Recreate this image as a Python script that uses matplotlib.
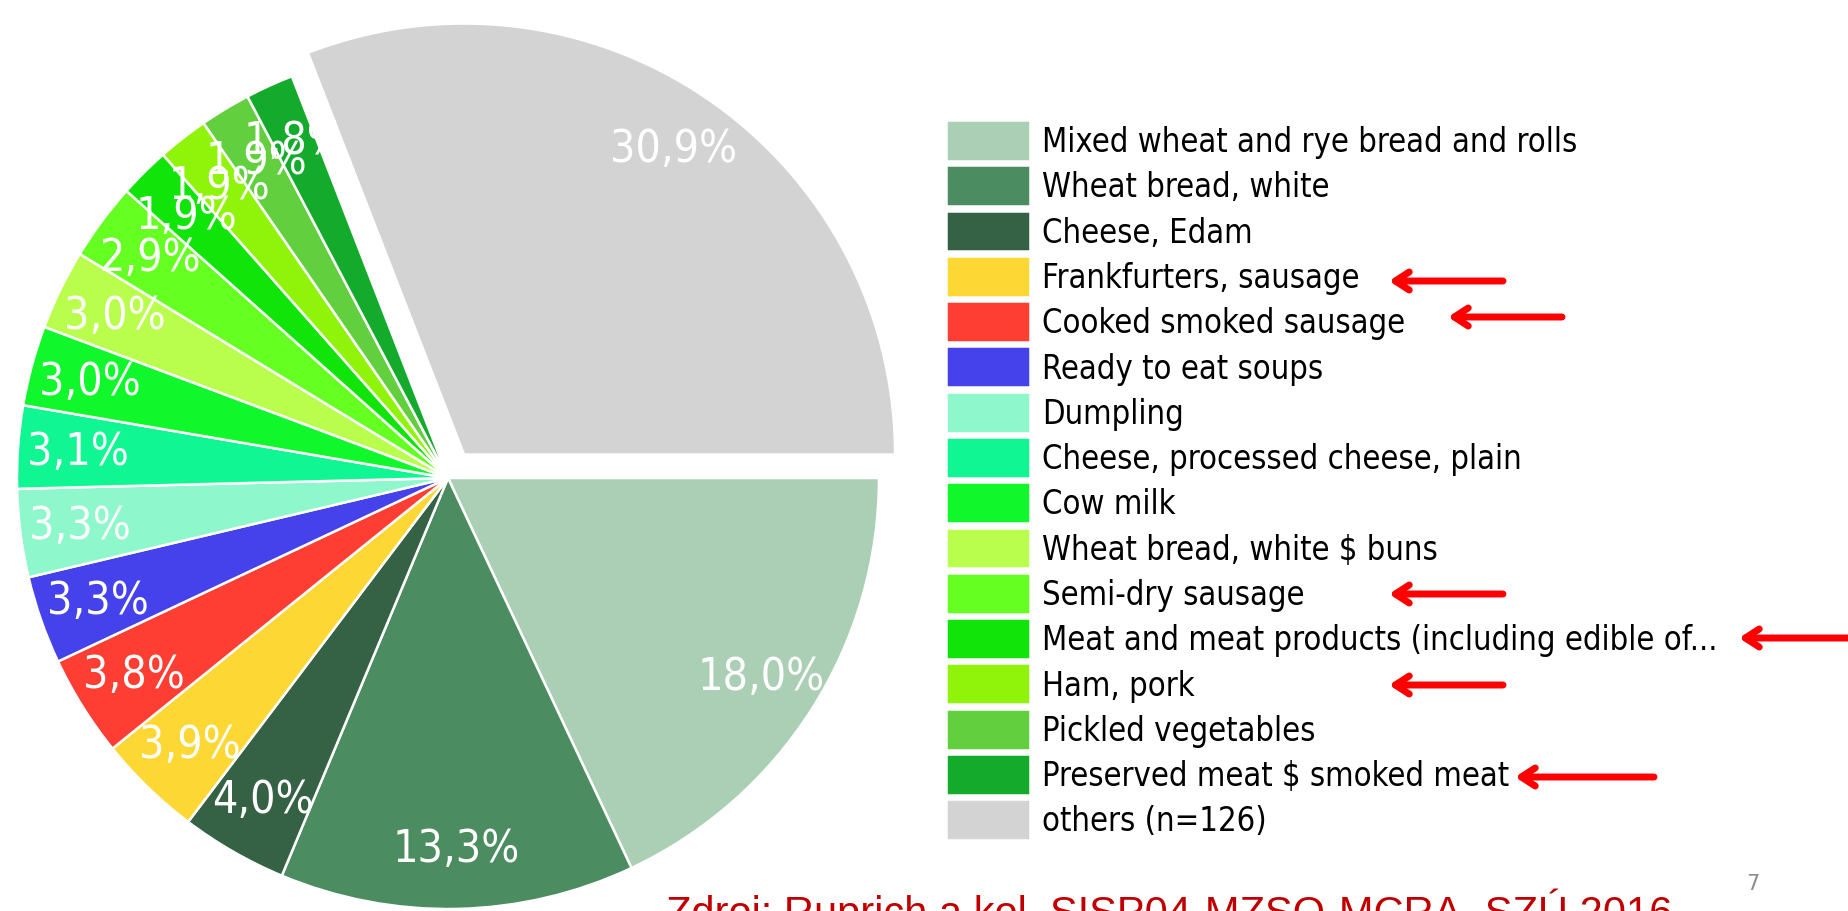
import matplotlib
matplotlib.use('Agg')
import matplotlib.pyplot as plt

# Data
labels = ['Mixed wheat and rye bread and rolls', 'Wheat bread, white', 'Cheese, Edam',
          'Frankfurters, sausage', 'Cooked smoked sausage', 'Ready to eat soups', 'Dumpling',
          'Cheese, processed cheese, plain', 'Cow milk', 'Wheat bread, white $ buns',
          'Semi-dry sausage', 'Meat and meat products (including edible of...', 'Ham, pork',
          'Pickled vegetables', 'Preserved meat $ smoked meat', 'others (n=126)']
shares = [18.0, 13.3, 4.0, 3.9, 3.8, 3.3, 3.3, 3.1, 3.0, 3.0, 2.9, 1.9, 1.9, 1.9, 1.8, 30.9]
colors = ['#aacfb5', '#4b8c61', '#356145', '#fdd835', '#ff3e33', '#4542ec', '#8ef8cc',
          '#10f692', '#10f82c', '#b9fe4c', '#66ff22', '#11e408', '#8ff40a', '#62cf3f',
          '#14ab2c', '#d3d3d3']
source = 'Zdroj: Ruprich a kol. SISP04-MZSO-MCRA, SZÚ 2016'

W, H = 1849, 912
R = 431
fig = plt.figure(figsize=(W / 100, H / 100), dpi=100)
ax = fig.add_axes([0, 0, 1, 1])

# explode is in data units here (radius is not 1)
explode = [0] * (len(shares) - 1) + [0.066 * R]
wedges, texts, autotexts = ax.pie(
    shares, colors=colors, explode=explode, startangle=0, counterclock=False,
    center=(448, H - 479), radius=R, pctdistance=0.86,
    autopct=lambda p: f'{p:.1f}%'.replace('.', ','),
    wedgeprops=dict(edgecolor='white', linewidth=1.8),
    textprops=dict(color='white', fontsize=32, family='DejaVu Sans', fontstretch='condensed'))
ax.set_xlim(0, W)
ax.set_ylim(0, H)
ax.set_aspect('equal')
ax.axis('off')

fs = 23.5
leg = ax.legend(wedges, labels, loc='upper left', bbox_to_anchor=(946 / W, 1 - 121 / H),
                bbox_transform=fig.transFigure, frameon=False,
                handlelength=2.56, handleheight=1.55, labelspacing=0.135,
                handletextpad=0.38, borderpad=0, borderaxespad=0,
                prop=dict(family='DejaVu Sans', size=fs, stretch='condensed'))

# red arrows next to selected legend entries (figure pixels)
arrows = [(1503, 1389, 282), (1562, 1448, 318), (1503, 1389, 595),
          (1860, 1739, 639), (1503, 1389, 686), (1654, 1515, 778)]
for x0, x1, y in arrows:
    ax.annotate('', xy=(x1, H - y), xytext=(x0, H - y), xycoords='data',
                arrowprops=dict(arrowstyle='->,head_length=1.0,head_width=0.65',
                                color='red', lw=5, shrinkA=0, shrinkB=0),
                annotation_clip=False)

fig.text(666 / W, -14 / H, source, color='#c00000', fontsize=30,
         family='Liberation Sans', va='baseline', ha='left')
fig.text(1753 / W, 1 - 884 / H, '7', color='#8c8c8c', fontsize=15, ha='center', va='center')

fig.savefig('out.png', dpi=100)
